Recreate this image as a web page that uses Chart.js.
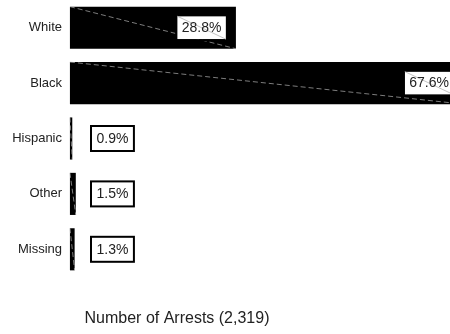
<!DOCTYPE html>
<html>
<head>
<meta charset="utf-8">
<script src="https://cdn.jsdelivr.net/npm/chart.js@4"></script>
<style>
  html, body { margin: 0; padding: 0; background: #fff; }
  #wrap { width: 450px; height: 334px; }
</style>
</head>
<body>
<div id="wrap"><canvas id="arrests" width="450" height="334"></canvas></div>
<script>
// Arrests by race, share of total
const categories = ['White', 'Black', 'Hispanic', 'Other', 'Missing'];
const shares = [28.8, 67.6, 0.9, 1.5, 1.3];
const shareLabels = ['28.8%', '67.6%', '0.9%', '1.5%', '1.3%'];
const axisTitle = 'Number of Arrests (2,319)';

const FONT = '"Liberation Sans", Arial, sans-serif';

// draws the odd diagonal strokes, the boxed value labels and the axis title
const labelPlugin = {
  id: 'boxLabels',
  afterDatasetsDraw(chart) {
    const ctx = chart.ctx;
    const area = chart.chartArea;
    const bars = chart.getDatasetMeta(0).data;

    ctx.save();
    ctx.beginPath();
    ctx.rect(area.left, area.top, area.right - area.left, area.bottom - area.top);
    ctx.clip();
    ctx.strokeStyle = 'rgba(190,190,190,0.65)';
    ctx.lineWidth = 1;
    ctx.setLineDash([5, 3]);
    bars.forEach(b => {
      ctx.beginPath();
      ctx.moveTo(b.base, b.y - b.height / 2);
      ctx.lineTo(b.x, b.y + b.height / 2);
      ctx.stroke();
    });
    ctx.restore();

    ctx.save();
    ctx.font = '14px ' + FONT;
    ctx.textBaseline = 'middle';
    bars.forEach((b, i) => {
      const txt = shareLabels[i];
      const w = ctx.measureText(txt).width;
      const bw = w + 9;
      const bh = 23;
      const inside = shares[i] > 10;
      const left = inside ? b.x - 10 - bw : area.left + 25;
      const top = b.y - bh / 2;
      ctx.fillStyle = '#fff';
      ctx.fillRect(left, top, bw, bh);
      ctx.strokeStyle = '#000';
      ctx.lineWidth = 2;
      ctx.setLineDash([]);
      ctx.strokeRect(left - 1, top - 1, bw + 2, bh + 2);
      if (inside) {
        ctx.strokeStyle = 'rgba(180,180,180,0.8)';
        ctx.lineWidth = 1;
        ctx.beginPath();
        ctx.moveTo(left, top);
        ctx.lineTo(left + bw, top + bh);
        ctx.stroke();
      }
      ctx.fillStyle = '#222';
      ctx.textAlign = 'center';
      ctx.fillText(txt, left + bw / 2, b.y + 0.5);
    });
    ctx.restore();
  },
  afterDraw(chart) {
    const ctx = chart.ctx;
    ctx.save();
    ctx.font = '16px ' + FONT;
    ctx.fillStyle = '#222';
    ctx.textAlign = 'center';
    ctx.textBaseline = 'middle';
    ctx.fillText(axisTitle, 177, 319);
    ctx.restore();
  }
};

new Chart(document.getElementById('arrests'), {
  type: 'bar',
  data: {
    labels: categories,
    datasets: [{
      data: shares,
      backgroundColor: '#000',
      borderWidth: 0,
      base: 0.5,
      barPercentage: 0.76,
      categoryPercentage: 1
    }]
  },
  options: {
    indexAxis: 'y',
    responsive: false,
    animation: false,
    devicePixelRatio: 1,
    layout: { padding: { top: 0, right: 0, bottom: 57, left: 0 } },
    plugins: {
      legend: { display: false },
      tooltip: { enabled: false }
    },
    scales: {
      x: {
        display: false,
        min: 0,
        max: 65.3
      },
      y: {
        afterFit(scale) {
          scale.width = 67;
          scale.paddingTop = 0;
          scale.paddingBottom = 0;
        },
        grid: { display: false, drawTicks: false },
        border: { display: false },
        ticks: {
          color: '#222',
          padding: 5,
          font: { size: 13, family: FONT }
        }
      }
    }
  },
  plugins: [labelPlugin]
});
</script>
</body>
</html>
